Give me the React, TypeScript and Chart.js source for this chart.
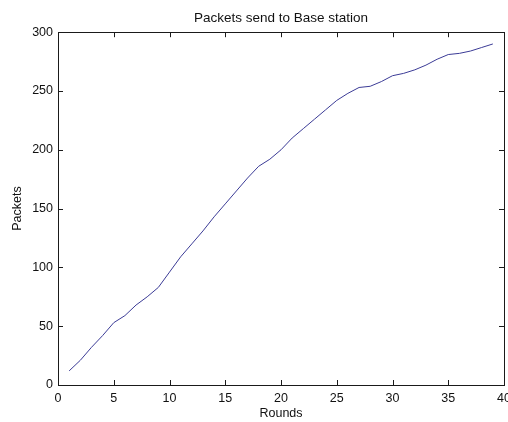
import React, { useEffect, useRef } from "react";
import { Chart, registerables } from "chart.js";

Chart.register(...registerables);

const rounds: number[] = [
  1, 2, 3, 4, 5, 6, 7, 8, 9, 10, 11, 12, 13, 14, 15, 16, 17, 18, 19, 20,
  21, 22, 23, 24, 25, 26, 27, 28, 29, 30, 31, 32, 33, 34, 35, 36, 37, 38, 39,
];
const packets: number[] = [
  12, 21, 32, 42, 53, 59, 68, 75, 83, 96, 109, 120, 131, 143, 154, 165, 176,
  186, 192, 200, 210, 218, 226, 234, 242, 248, 253, 254, 258, 263, 265, 268,
  272, 277, 281, 282, 284, 287, 290,
];
const xTickStep = 5;
const yTickStep = 50;
const xRange = [0, 40];
const yRange = [0, 300];

const titleText = "Packets send to Base station";
const xLabel = "Rounds";
const yLabel = "Packets";

const FONT = "Arial, 'Liberation Sans', Helvetica, sans-serif";

const boxTicksPlugin = {
  id: "boxTicks",
  afterDraw(chart: any) {
    const { ctx, chartArea } = chart;
    const { left, right, top, bottom } = chartArea;
    const xs = chart.scales.x;
    const ys = chart.scales.y;
    const len = 5;
    ctx.save();
    ctx.strokeStyle = "#1a1a1a";
    ctx.lineWidth = 1;
    ctx.beginPath();
    xs.ticks.forEach((t: any) => {
      const px = Math.round(xs.getPixelForValue(t.value)) + 0.5;
      ctx.moveTo(px, bottom);
      ctx.lineTo(px, bottom - len);
      ctx.moveTo(px, top);
      ctx.lineTo(px, top + len);
    });
    ys.ticks.forEach((t: any) => {
      const py = Math.round(ys.getPixelForValue(t.value)) + 0.5;
      ctx.moveTo(left, py);
      ctx.lineTo(left + len, py);
      ctx.moveTo(right, py);
      ctx.lineTo(right - len, py);
    });
    ctx.stroke();
    ctx.strokeRect(
      Math.round(left) + 0.5,
      Math.round(top) + 0.5,
      Math.round(right - left),
      Math.round(bottom - top)
    );
    ctx.restore();
  },
};

export default function App() {
  const canvasRef = useRef<HTMLCanvasElement | null>(null);

  useEffect(() => {
    if (!canvasRef.current) return;
    const points = rounds.map((r, i) => ({ x: r, y: packets[i] }));
    const chart = new Chart(canvasRef.current, {
      type: "line",
      data: {
        datasets: [
          {
            data: points,
            borderColor: "#3b3b96",
            borderWidth: 1,
            pointRadius: 0,
            tension: 0,
            fill: false,
          },
        ],
      },
      options: {
        animation: false,
        responsive: false,
        devicePixelRatio: 1,
        layout: { padding: { left: 0, right: 4, top: 0, bottom: 0 } },
        plugins: {
          legend: { display: false },
          tooltip: { enabled: false },
          title: {
            display: true,
            text: titleText,
            color: "#111",
            fullSize: false,
            font: { family: FONT, size: 13.5, weight: "normal" },
            padding: { top: 10, bottom: 6 },
          },
        },
        scales: {
          x: {
            type: "linear",
            min: xRange[0],
            max: xRange[1],
            border: { display: false },
            grid: { display: true, drawOnChartArea: false, drawTicks: false, color: "rgba(0,0,0,0)" },
            ticks: {
              stepSize: xTickStep,
              color: "#111",
              padding: 6,
              maxRotation: 0,
              font: { family: FONT, size: 12.5 },
            },
            title: {
              display: true,
              text: xLabel,
              color: "#111",
              font: { family: FONT, size: 12.5 },
              padding: { top: 0, bottom: 1 },
            },
            afterFit(scale: any) {
              scale.height = 37;
              scale.paddingRight = 0;
            },
          },
          y: {
            type: "linear",
            min: yRange[0],
            max: yRange[1],
            border: { display: false },
            grid: { display: true, drawOnChartArea: false, drawTicks: false, color: "rgba(0,0,0,0)" },
            ticks: {
              stepSize: yTickStep,
              color: "#111",
              padding: 5,
              font: { family: FONT, size: 12.5 },
            },
            title: {
              display: true,
              text: yLabel,
              color: "#111",
              font: { family: FONT, size: 12.5 },
              padding: { top: 10, bottom: 0 },
            },
            afterFit(scale: any) {
              scale.width = 58;
            },
          },
        },
      },
      plugins: [boxTicksPlugin],
    });
    return () => chart.destroy();
  }, []);

  return (
    <div
      style={{
        position: "fixed",
        left: 0,
        top: 0,
        width: 508,
        height: 422,
        background: "#fff",
      }}
    >
      <canvas ref={canvasRef} width={508} height={422} />
    </div>
  );
}
